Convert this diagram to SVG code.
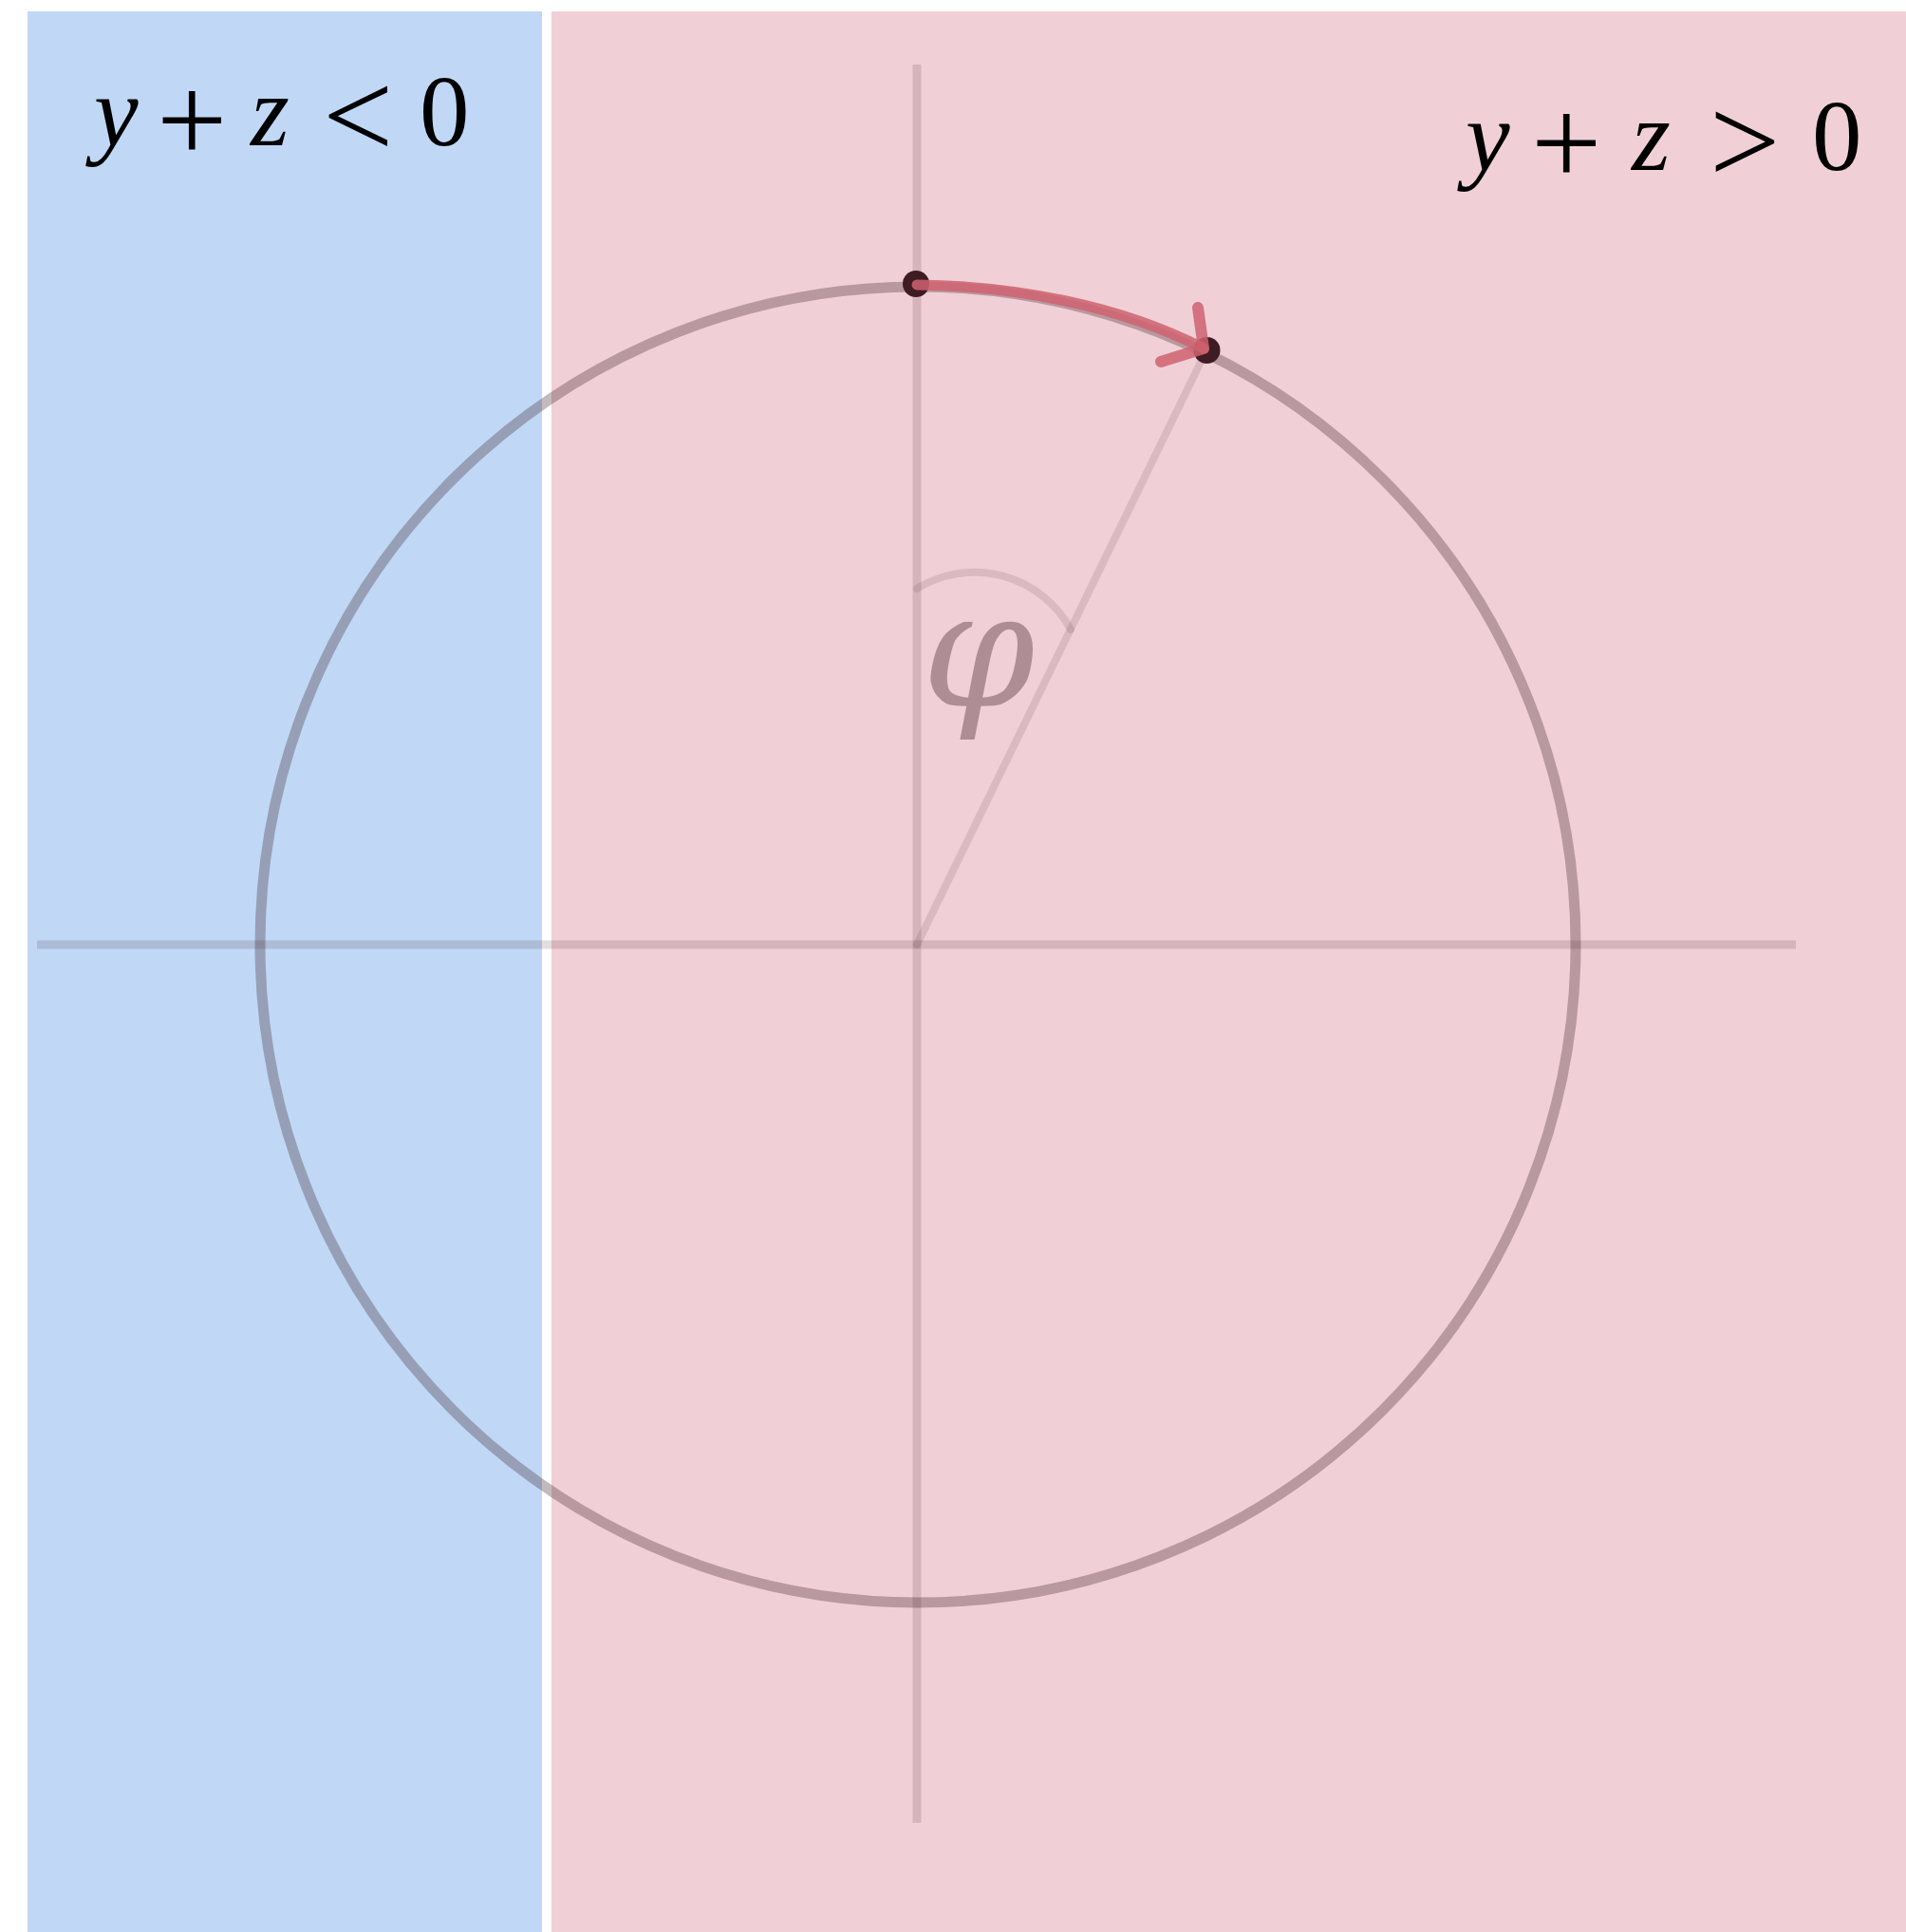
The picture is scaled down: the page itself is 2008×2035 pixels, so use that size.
<svg xmlns="http://www.w3.org/2000/svg" width="2008" height="2035" viewBox="0 0 2008 2035">
<style>
.axis{stroke:rgb(63,28,36);stroke-opacity:0.15;stroke-width:9;fill:none}
.faint{stroke:rgb(63,28,36);stroke-opacity:0.12;stroke-width:8;fill:none;stroke-linecap:round}
.circ{stroke:rgb(55,25,35);stroke-opacity:0.3;stroke-width:11;fill:none}
.dot{fill:#3f1c24}
.red{stroke:rgb(207,97,112);stroke-opacity:0.85;fill:none;stroke-linecap:round;stroke-linejoin:round}
.lbl{font-family:"Liberation Serif","Times New Roman",serif;font-size:105px;fill:#000}
.it{font-style:italic}
.op{font-size:132px}
</style>
<rect width="2008" height="2035" fill="#ffffff"/>
<g id="region-negative">
<rect x="29" y="12" width="542" height="2023" fill="#c0d8f6"/>
<text class="lbl"><tspan class="it" x="99" y="153">y</tspan><tspan class="op" x="165" y="170">+</tspan><tspan class="it" x="264" y="153">z</tspan><tspan class="op" x="340" y="166">&lt;</tspan><tspan x="442" y="153">0</tspan></text>
</g>
<g id="region-positive">
<rect x="581" y="12" width="1427" height="2023" fill="#f0d0d6"/>
<text class="lbl"><tspan class="it" x="1544" y="179">y</tspan><tspan class="op" x="1613" y="194">+</tspan><tspan class="it" x="1719" y="179">z</tspan><tspan class="op" x="1801" y="193">&gt;</tspan><tspan x="1909" y="179">0</tspan></text>
</g>
<g id="axes">
<line class="axis" x1="39" y1="995" x2="1892" y2="995"/>
<line class="axis" x1="966" y1="68" x2="966" y2="1920"/>
</g>
<g id="circle">
<circle class="circ" cx="967" cy="995" r="693"/>
</g>
<g id="angle">
<line class="faint" x1="966" y1="995" x2="1271" y2="369"/>
<path class="faint" d="M 966 620 A 115.5 115.5 0 0 1 1128 663"/>
<text x="1031" y="744" text-anchor="middle" style="font-family:'DejaVu Serif',serif;font-style:italic;font-size:170px;fill:rgb(63,28,36);fill-opacity:0.37">φ</text>
</g>
<g id="point-start"><circle class="dot" cx="965" cy="299" r="14"/></g>
<g id="point-end"><circle class="dot" cx="1271.5" cy="369" r="14"/></g>
<g id="connectors">
<path class="red" stroke-width="11" d="M 966 300 C 1070 301 1180 322 1268 367"/>
<path class="red" stroke-width="12" d="M 1262 324 L 1268 367 L 1223 381"/>
</g>
</svg>
